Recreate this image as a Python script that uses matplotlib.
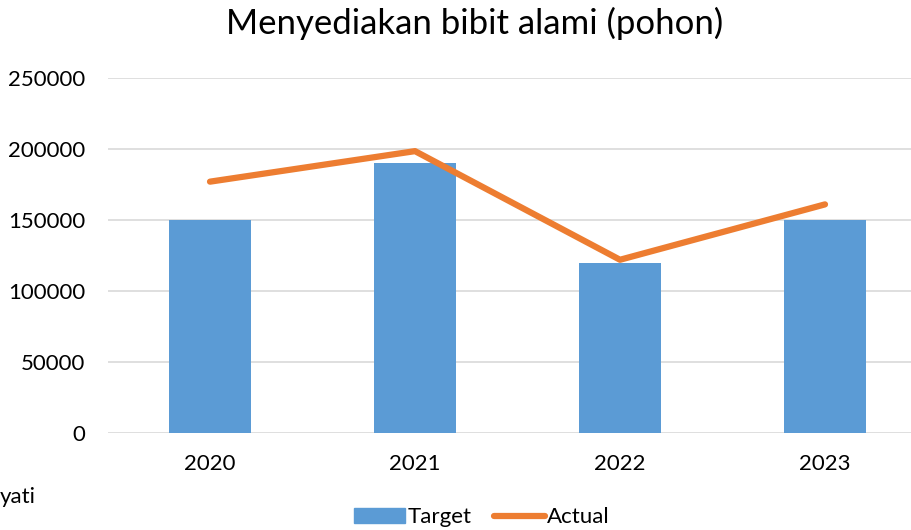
import matplotlib
matplotlib.use("Agg")
import matplotlib.pyplot as plt
from matplotlib.lines import Line2D
from matplotlib.patches import Patch

years = ["2020", "2021", "2022", "2023"]
target = [150000, 190000, 120000, 150000]
actual = [177000, 198500, 122000, 161000]
yticks = [0, 50000, 100000, 150000, 200000, 250000]

plt.rcParams['font.family'] = ['Lato', 'DejaVu Sans']

fig = plt.figure(figsize=(9.11, 5.30), dpi=100)
ax = fig.add_axes([107.5/911, 97/530, 820/911, 355/530])
x = list(range(len(years)))
ax.bar(x, target, width=0.4, color="#5B9BD5", zorder=2, label="Target")
ax.plot(x, actual, color="#ED7D31", linewidth=4.5, solid_capstyle="round", zorder=3, label="Actual")
ax.set_xlim(-0.5, 3.5)
ax.set_ylim(0, 250000)
ax.set_yticks(yticks)
ax.set_yticklabels([str(v) for v in yticks])
ax.set_xticks(x)
ax.set_xticklabels(years)
ax.grid(axis="y", color="#D9D9D9", linewidth=1.2, zorder=0)
for s in ax.spines.values():
    s.set_visible(False)
ax.tick_params(axis="both", length=0, labelsize=16, colors="#000000")
ax.tick_params(axis="y", pad=16)
ax.tick_params(axis="x", pad=15)

fig.text(475/911, 0.955, "Menyediakan bibit alami (pohon)", ha="center", va="center", fontsize=25)
fig.text(0.0, 0.062, "yati", ha="left", va="center", fontsize=16)

handles = [Patch(color="#5B9BD5", label="Target"),
           Line2D([0], [0], color="#ED7D31", linewidth=4.5, solid_capstyle="round", label="Actual")]
fig.legend(handles=handles, loc="center", bbox_to_anchor=(0.529, 0.024), ncol=2, frameon=False,
           fontsize=16, handlelength=2.3, handletextpad=0.1, columnspacing=1.0)

fig.savefig("out.png", dpi=100)
